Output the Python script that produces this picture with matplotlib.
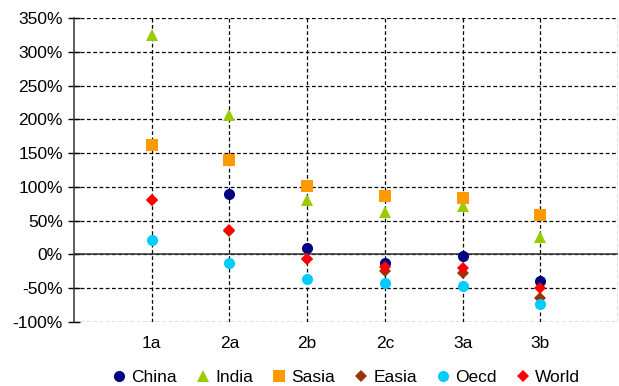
import matplotlib.pyplot as plt
import numpy as np

plt.rcParams['font.family'] = ['Liberation Sans', 'DejaVu Sans']

categories = ['1a', '2a', '2b', '2c', '3a', '3b']
china = [np.nan, 89, 9, -12, -2, -40]
india = [325, 207, 81, 63, 72, 26]
sasia = [162, 140, 102, 86, 84, 58]
easia = [80, 35, -7, -25, -28, -65]
oecd = [21, -12, -36, -43, -47, -74]
world = [80, 36, -7, -18, -20, -50]

series = [
    ('China', china, 'o', '#000080', 8),
    ('India', india, '^', '#99CC00', 9),
    ('Sasia', sasia, 's', '#FF9900', 8),
    ('Easia', easia, 'D', '#993300', 6.5),
    ('Oecd', oecd, 'o', '#00CCFF', 8),
    ('World', world, 'D', '#FF0000', 6.5),
]

fig = plt.figure(figsize=(6.19, 3.86), dpi=100)
ax = fig.add_axes([0.1195, 0.166, 0.879, 0.787])

x = np.arange(1, len(categories) + 1)
for name, vals, m, c, ms in series:
    ax.plot(x, vals, linestyle='none', marker=m, color=c, markersize=ms,
            markeredgewidth=0, label=name, zorder=3)

ax.set_xlim(0, 7)
ax.set_ylim(-100, 350)
ax.set_yticks(np.arange(-100, 351, 50))
ax.set_yticklabels([f'{v}%' for v in range(-100, 351, 50)], fontsize=12.5)
ax.set_xticks(x)
ax.set_xticklabels(categories, fontsize=12.5)
ax.tick_params(axis='x', length=0, pad=10)
ax.tick_params(axis='y', direction='inout', length=8, width=1, pad=4)

ax.grid(True, linestyle=(0, (3, 2)), color='black', linewidth=0.9)
ax.axhline(0, color='#333333', linewidth=1.1, zorder=2)
ax.axvline(7, color='black', linestyle=(0, (3, 2)), linewidth=0.9)
for s in ['top', 'right', 'bottom']:
    ax.spines[s].set_visible(False)
ax.spines['left'].set_color('#333333')
ax.spines['left'].set_linewidth(1.1)

ax.legend(loc='upper center', bbox_to_anchor=(0.497, -0.105), ncol=6,
          frameon=False, fontsize=12.5, handletextpad=0.1, columnspacing=0.9,
          handlelength=1.2)

fig.savefig('out.png', dpi=100)
